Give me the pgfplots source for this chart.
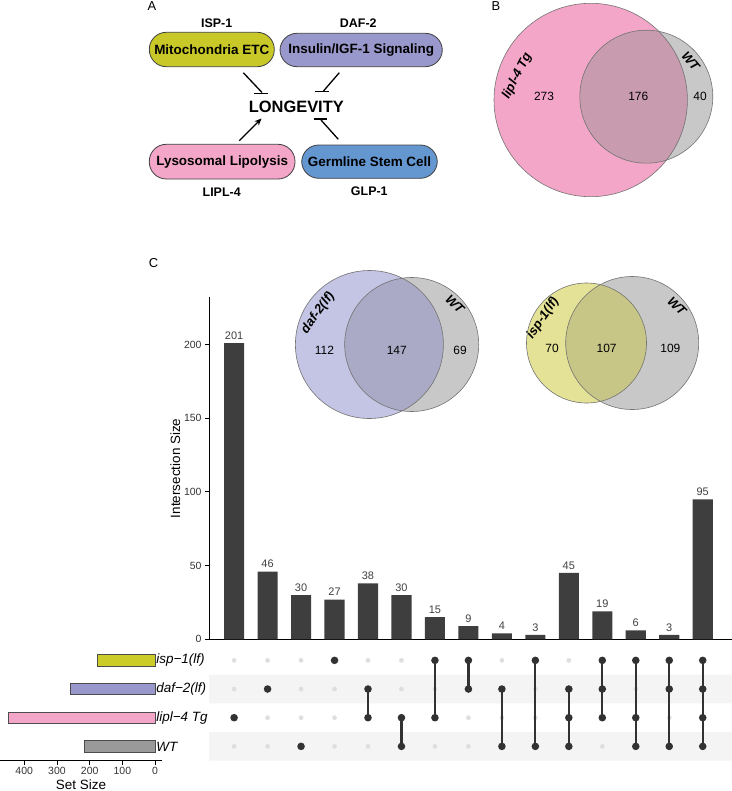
\documentclass[border=0pt]{standalone}
\usepackage{pgfplots}
\pgfplotsset{compat=1.18}
\usepackage{fontspec}
\setmainfont{Liberation Sans}
\usetikzlibrary{arrows.meta}

\newcommand\fsz[1]{\fontsize{#1}{#1}\selectfont}

\definecolor{mito}{RGB}{200,200,40}
\definecolor{insu}{RGB}{152,152,204}
\definecolor{lyso}{RGB}{244,166,200}
\definecolor{germ}{RGB}{100,150,208}
\definecolor{barc}{RGB}{62,62,62}
\definecolor{dotdark}{RGB}{50,50,50}
\definecolor{dotlight}{RGB}{222,222,222}
\definecolor{band}{RGB}{244,244,244}
\definecolor{vgray}{RGB}{200,200,200}
\definecolor{vpink}{RGB}{244,166,200}
\definecolor{vpinkov}{RGB}{200,155,175}
\definecolor{vlav}{RGB}{196,196,228}
\definecolor{vlavov}{RGB}{170,170,198}
\definecolor{vyel}{RGB}{228,226,150}
\definecolor{vyelov}{RGB}{200,198,135}
\definecolor{setisp}{RGB}{204,204,41}
\definecolor{setdaf}{RGB}{152,152,204}
\definecolor{setlipl}{RGB}{244,166,200}
\definecolor{setwt}{RGB}{153,153,153}

\pgfplotsset{
  on/.style={color=dotdark, line width=2.2bp, mark=*, mark size=2.6bp},
  matrixaxis/.style={
    at={(209bp,-760.7bp)}, anchor=south west,
    scale only axis, width=523bp, height=114.7bp,
    xmin=0.25, xmax=15.875, ymin=0.5, ymax=4.5,
    hide axis, clip=false},
}

\begin{document}
\begin{tikzpicture}[x=1bp,y=1bp]
\useasboundingbox (0,0) rectangle (732,-791);

% ---------- panel A: pathway sketch
\tikzset{box/.style={draw=black!75, line width=0.8bp, rounded corners=17bp},
         inh/.style={line width=1.3bp, black}}
\node[font=\fsz{13}] at (152,-6) {A};
\node[font=\bfseries\fsz{12.5}] at (216.7,-23.3) {ISP-1};
\node[font=\bfseries\fsz{12.5}] at (358.3,-22.7) {DAF-2};
\node[font=\bfseries\fsz{12.5}] at (221.7,-192.3) {LIPL-4};
\node[font=\bfseries\fsz{12.5}] at (369.3,-191.7) {GLP-1};
\filldraw[box, fill=mito] (149.3,-32.3) rectangle (274.3,-66.7);
\filldraw[box, fill=insu] (280,-33.3) rectangle (442.3,-66.7);
\filldraw[box, fill=lyso] (149.3,-144.3) rectangle (295,-179);
\filldraw[box, fill=germ] (301.7,-145) rectangle (437.3,-178.3);
\node[font=\bfseries\fsz{13.5}] at (211.8,-49.5) {Mitochondria ETC};
\node[font=\bfseries\fsz{13.5}] at (361.2,-50) {Insulin/IGF-1 Signaling};
\node[font=\bfseries\fsz{13.5}] at (222.2,-161.7) {Lysosomal Lipolysis};
\node[font=\bfseries\fsz{13.5}] at (369.5,-161.7) {Germline Stem Cell};
\node[font=\bfseries\fsz{16.5}] at (296.3,-106.7) {LONGEVITY};
\draw[inh] (243.3,-72.7) -- (262,-92.5);
\draw[inh] (254,-93.5) -- (268,-93.5);
\draw[inh] (339.3,-72.7) -- (323.5,-91);
\draw[inh] (315,-91.7) -- (329.3,-91.7);
\draw[inh] (338.3,-139.3) -- (321,-120);
\draw[inh] (314,-119) -- (327.3,-119);
\draw[inh, -{Stealth[length=7bp,width=6bp]}] (239.3,-140.7) -- (261.5,-118.5);

% ---------- panel B: Venn lipl-4 Tg vs WT
\node[font=\fsz{13}] at (496,-6) {B};
\fill[vpink] (590.7,-100) circle (96.7);
\fill[vgray] (646.3,-96.7) circle (66.5);
\begin{scope}
  \clip (590.7,-100) circle (96.7);
  \fill[vpinkov] (646.3,-96.7) circle (66.5);
\end{scope}
\draw[black!55, line width=0.6bp] (590.7,-100) circle (96.7);
\draw[black!55, line width=0.6bp] (646.3,-96.7) circle (66.5);
\node[font=\bfseries\itshape\fsz{13}, rotate=63] at (517.2,-75.8) {lipl-4 Tg};
\node[font=\bfseries\itshape\fsz{13}, rotate=-50] at (690.7,-61) {WT};
\node[font=\fsz{12}] at (544,-96.7) {273};
\node[font=\fsz{12}] at (638.3,-96.7) {176};
\node[font=\fsz{12}] at (700,-96.7) {40};

% ---------- panel C
\node[font=\fsz{13}] at (153.5,-263) {C};

% intersection sizes
\begin{axis}[
  at={(209bp,-639.3bp)}, anchor=south west,
  scale only axis, width=523bp, height=342bp,
  xmin=0.25, xmax=15.875, ymin=0, ymax=232,
  axis lines*=left,
  axis line style={line width=1bp, black},
  xtick=\empty,
  ytick={0,50,100,150,200},
  tick align=outside, major tick length=4bp,
  ytick style={line width=0.8bp, black},
  /pgf/number format/assume math mode=true,
  yticklabel style={font=\fsz{10.5}, text=black!80},
  ylabel={Intersection Size},
  ylabel style={font=\fsz{13.5}, yshift=-3bp},
  ybar, bar width=0.6,
  nodes near coords,
  nodes near coords style={font=\fsz{11}, text=black!75},
  clip=false,
]
\addplot[fill=barc, draw=none] coordinates {
  (1,201) (2,46) (3,30) (4,27) (5,38) (6,30) (7,15) (8,9)
  (9,4) (10,3) (11,45) (12,19) (13,6) (14,3) (15,95)
};
\end{axis}

% inset Venn: daf-2(lf) vs WT
\fill[vlav] (369.4,-344.5) circle (74);
\fill[vgray] (411.7,-344.5) circle (67);
\begin{scope}
  \clip (369.4,-344.5) circle (74);
  \fill[vlavov] (411.7,-344.5) circle (67);
\end{scope}
\draw[black!55, line width=0.6bp] (369.4,-344.5) circle (74);
\draw[black!55, line width=0.6bp] (411.7,-344.5) circle (67);
\node[font=\bfseries\itshape\fsz{13}, rotate=54] at (318,-313) {daf-2(lf)};
\node[font=\bfseries\itshape\fsz{13}, rotate=-45] at (455,-304) {WT};
\node[font=\fsz{12}] at (324.5,-350) {112};
\node[font=\fsz{12}] at (396.8,-350) {147};
\node[font=\fsz{12}] at (460,-350) {69};

% inset Venn: isp-1(lf) vs WT
\fill[vgray] (632.2,-343) circle (66.5);
\fill[vyel] (586.5,-343) circle (60);
\begin{scope}
  \clip (586.5,-343) circle (60);
  \fill[vyelov] (632.2,-343) circle (66.5);
\end{scope}
\draw[black!55, line width=0.6bp] (586.5,-343) circle (60);
\draw[black!55, line width=0.6bp] (632.2,-343) circle (66.5);
\node[font=\bfseries\itshape\fsz{13}, rotate=56] at (543,-318) {isp-1(lf)};
\node[font=\bfseries\itshape\fsz{13}, rotate=-45] at (677,-306) {WT};
\node[font=\fsz{12}] at (552,-348.7) {70};
\node[font=\fsz{12}] at (606.6,-348.7) {107};
\node[font=\fsz{12}] at (670.4,-348.7) {109};

% intersection matrix: background bands and empty dots
\begin{axis}[matrixaxis]
\addplot[fill=band, draw=none] coordinates {(0.25,2.5) (16.5,2.5) (16.5,3.5) (0.25,3.5) (0.25,2.5)};
\addplot[fill=band, draw=none] coordinates {(0.25,0.5) (16.5,0.5) (16.5,1.5) (0.25,1.5) (0.25,0.5)};
\addplot[only marks, mark=*, mark size=2.1bp, color=dotlight] coordinates {
  (1,4) (2,4) (3,4) (4,4) (5,4) (6,4) (7,4) (8,4) (9,4) (10,4) (11,4) (12,4) (13,4) (14,4) (15,4)
  (1,3) (2,3) (3,3) (4,3) (5,3) (6,3) (7,3) (8,3) (9,3) (10,3) (11,3) (12,3) (13,3) (14,3) (15,3)
  (1,2) (2,2) (3,2) (4,2) (5,2) (6,2) (7,2) (8,2) (9,2) (10,2) (11,2) (12,2) (13,2) (14,2) (15,2)
  (1,1) (2,1) (3,1) (4,1) (5,1) (6,1) (7,1) (8,1) (9,1) (10,1) (11,1) (12,1) (13,1) (14,1) (15,1)
};
\end{axis}

% intersection matrix: member sets
\begin{axis}[matrixaxis]
\addplot[on] coordinates {(1,2)};
\addplot[on] coordinates {(2,3)};
\addplot[on] coordinates {(3,1)};
\addplot[on] coordinates {(4,4)};
\addplot[on] coordinates {(5,3) (5,2)};
\addplot[on] coordinates {(6,2) (6,1)};
\addplot[on] coordinates {(7,4) (7,2)};
\addplot[on] coordinates {(8,4) (8,3)};
\addplot[on] coordinates {(9,3) (9,1)};
\addplot[on] coordinates {(10,4) (10,1)};
\addplot[on] coordinates {(11,3) (11,2) (11,1)};
\addplot[on] coordinates {(12,4) (12,3) (12,2)};
\addplot[on] coordinates {(13,4) (13,2) (13,1)};
\addplot[on] coordinates {(14,4) (14,3) (14,1)};
\addplot[on] coordinates {(15,4) (15,3) (15,2) (15,1)};
\end{axis}

% set sizes
\begin{axis}[
  at={(0bp,-760.7bp)}, anchor=south west,
  scale only axis, width=162bp, height=114.7bp,
  xmin=-21, xmax=474, x dir=reverse,
  ymin=0.5, ymax=4.5,
  axis x line*=bottom, axis y line=none,
  axis line style={line width=1bp, black},
  xtick={0,100,200,300,400}, ytick=\empty,
  tick align=outside, major tick length=4bp,
  xtick style={line width=0.8bp, black},
  /pgf/number format/assume math mode=true,
  xticklabel style={font=\fsz{10.5}, text=black!80, yshift=1bp},
  xlabel={Set Size},
  xlabel style={font=\fsz{13.5}, inner sep=0pt, yshift=-1.5bp},
  xbar, bar width=0.4, bar shift=0,
  clip=false,
]
\addplot[fill=setisp, draw=black!70, line width=0.6bp] coordinates {(177,4)};
\addplot[fill=setdaf, draw=black!70, line width=0.6bp] coordinates {(259,3)};
\addplot[fill=setlipl, draw=black!70, line width=0.6bp] coordinates {(449,2)};
\addplot[fill=setwt, draw=black!70, line width=0.6bp] coordinates {(216,1)};
\node[anchor=west, inner sep=1bp, font=\itshape\fsz{13.5}] at (axis cs:0,4) {isp−1(lf)};
\node[anchor=west, inner sep=1bp, font=\itshape\fsz{13.5}] at (axis cs:0,3) {daf−2(lf)};
\node[anchor=west, inner sep=1bp, font=\itshape\fsz{13.5}] at (axis cs:0,2) {lipl−4 Tg};
\node[anchor=west, inner sep=1bp, font=\itshape\fsz{13.5}] at (axis cs:0,1) {WT};
\end{axis}
\end{tikzpicture}
\end{document}
